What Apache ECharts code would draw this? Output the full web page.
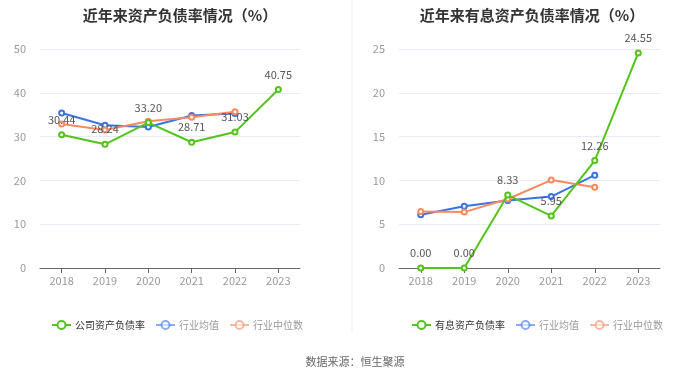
<!DOCTYPE html>
<html><head><meta charset="utf-8">
<script src="https://cdn.jsdelivr.net/npm/echarts@6/dist/echarts.min.js"></script>
<style>html,body{margin:0;padding:0;background:#fff}#c{width:700px;height:378px}</style>
</head><body><div id="c"></div>
<script>
var years = ['2018','2019','2020','2021','2022','2023'];
var companyDebt = [30.44, 28.24, 33.20, 28.71, 31.03, 40.75];
var industryAvgDebt = [35.4, 32.6, 32.2, 34.8, 35.3, null];
var industryMedDebt = [32.9, 31.5, 33.5, 34.4, 35.7, null];
var companyIB = [0.00, 0.00, 8.33, 5.95, 12.26, 24.55];
var industryAvgIB = [6.08, 7.04, 7.7, 8.15, 10.6, null];
var industryMedIB = [6.46, 6.38, 7.88, 10.04, 9.23, null];
var leftTitle = '近年来资产负债率情况（%）';
var rightTitle = '近年来有息资产负债率情况（%）';
var leftNames = ['公司资产负债率','行业均值','行业中位数'];
var rightNames = ['有息资产负债率','行业均值','行业中位数'];
var source = '数据来源：恒生聚源';

var GREEN='#52c41a', BLUE='#3a72e8', ORANGE='#f88a62';
var font = '"Noto Sans CJK SC", "Noto Sans", sans-serif';
var chart = echarts.init(document.getElementById('c'));
function yAxis(idx, max, interval){
  return {type:'value', gridIndex:idx, min:0, max:max, interval:interval,
    axisLabel:{color:'#999', fontSize:11, fontFamily:font, margin:14},
    axisLine:{show:false}, axisTick:{show:false},
    splitLine:{lineStyle:{color:'#e8ebf3'}}};
}
function xAxis(idx){
  return {type:'category', gridIndex:idx, data:years, boundaryGap:true,
    axisLabel:{color:'#999', fontSize:11, fontFamily:font, margin:7},
    axisLine:{lineStyle:{color:'#666'}}, axisTick:{show:true, alignWithLabel:true, lineStyle:{color:'#666'}}};
}
function ser(name, data, idx, color, label, z){
  return {name:name, type:'line', xAxisIndex:idx, yAxisIndex:idx, data:data,
    symbol:'emptyCircle', symbolSize:5, showSymbol:true, z:z,
    lineStyle:{color:color, width:2}, itemStyle:{color:color, borderWidth:1.5},
    label:{show:label, position:'top', color:'#555', fontSize:11, fontFamily:font, distance:6,
      formatter:function(p){return p.value.toFixed(2);}}};
}
function legendData(names){
  return [
    {name:names[0], textStyle:{color:'#333'}},
    {name:names[1], textStyle:{color:'#999'}, itemStyle:{opacity:0.6}, lineStyle:{opacity:0.6}},
    {name:names[2], textStyle:{color:'#999'}, itemStyle:{opacity:0.6}, lineStyle:{opacity:0.6}}
  ];
}
var legCommon = {top:315, itemWidth:19, itemHeight:10, itemGap:10, textStyle:{fontSize:10, fontFamily:font, padding:[0,0,0,-1]}};
chart.setOption({
  animation:false,
  title:[
    {text:leftTitle, left:175, top:3, textAlign:'center', textStyle:{fontSize:15, fontWeight:'bold', color:'#333', fontFamily:font}},
    {text:rightTitle, left:527, top:3, textAlign:'center', textStyle:{fontSize:15, fontWeight:'bold', color:'#333', fontFamily:font}},
    {text:source, left:350, top:351, textAlign:'center', textStyle:{fontSize:11, fontWeight:'normal', color:'#666', fontFamily:font}}
  ],
  legend:[
    Object.assign({data:legendData(leftNames), left:46}, legCommon),
    Object.assign({data:legendData(rightNames), left:406}, legCommon)
  ],
  graphic:[{type:'line', shape:{x1:352, y1:0, x2:352, y2:333}, style:{stroke:'#eeeeee', lineWidth:1}}],
  grid:[
    {left:40, top:49, width:260, height:219},
    {left:399, top:49, width:261, height:219}
  ],
  xAxis:[xAxis(0), xAxis(1)],
  yAxis:[yAxis(0,50,10), yAxis(1,25,5)],
  series:[
    ser(leftNames[1], industryAvgDebt, 0, BLUE, false, 3),
    ser(leftNames[2], industryMedDebt, 0, ORANGE, false, 4),
    ser(leftNames[0], companyDebt, 0, GREEN, true, 5),
    ser(rightNames[1], industryAvgIB, 1, BLUE, false, 3),
    ser(rightNames[2], industryMedIB, 1, ORANGE, false, 4),
    ser(rightNames[0], companyIB, 1, GREEN, true, 5)
  ]
});
</script></body></html>
